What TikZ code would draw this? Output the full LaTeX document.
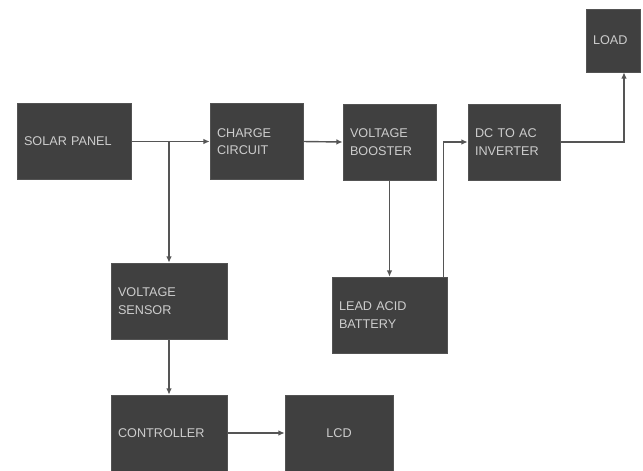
\documentclass[tikz,border=0pt]{standalone}
\usepackage{fontspec}
\setmainfont{Liberation Sans}
\usetikzlibrary{arrows.meta,positioning}
\definecolor{blockgray}{RGB}{64,64,64}
\definecolor{blocktext}{RGB}{205,205,205}
\definecolor{wiregray}{RGB}{85,85,85}

\begin{document}
\begin{tikzpicture}[
    x=0.025cm, y=-0.025cm,
    block/.style={rectangle, fill=blockgray, draw=blockgray!90!white, inner xsep=5pt, inner ysep=0pt,
        text width=#1-10pt, minimum height=1.9cm, align=left, text=blocktext,
        font=\fontsize{9}{12.5}\selectfont},
    arrow/.style={-{Latex[length=4.5pt,width=4pt]}, draw=wiregray, line width=1pt}
]
    \useasboundingbox (0,0) rectangle (643,470);

    % Top row
    \node[block=2.85cm] (solar) at (74,141.5) {SOLAR PANEL};
    \node[block=2.325cm] (charge) at (256.5,141.5) {CHARGE\\CIRCUIT};
    \node[block=2.325cm] (booster) at (389.5,142) {VOLTAGE\\BOOSTER};
    \node[block=2.3cm] (inverter) at (514,142) {DC TO AC\\INVERTER};
    \node[block=1.35cm, minimum height=1.575cm] (load) at (613,40.5) {LOAD};

    % Middle row
    \node[block=2.9cm] (sensor) at (169,301) {VOLTAGE\\SENSOR};
    \node[block=2.875cm] (battery) at (389.5,315) {LEAD ACID\\BATTERY};

    % Bottom row
    \node[block=2.9cm] (controller) at (169,433) {CONTROLLER};
    \node[block=2.7cm, align=center] (lcd) at (339,433) {LCD};

    % Arrows
    \coordinate (split) at (sensor.north |- solar.east);
    \coordinate (batout) at ([xshift=-0.1cm]battery.north east);
    \coordinate (loadin) at ([xshift=0.275cm]load.south);
    \draw[arrow] (solar.east) -- (charge.west);
    \draw[arrow] (split) -- (sensor.north);
    \draw[arrow] (charge.east) -- (booster.west);
    \draw[arrow] (booster.south) -- (battery.north);
    \draw[arrow] (batout) |- (inverter.west);
    \draw[arrow] (inverter.east) -| (loadin);
    \draw[arrow] (sensor.south) -- (controller.north);
    \draw[arrow] (controller.east) -- (lcd.west);
\end{tikzpicture}
\end{document}
